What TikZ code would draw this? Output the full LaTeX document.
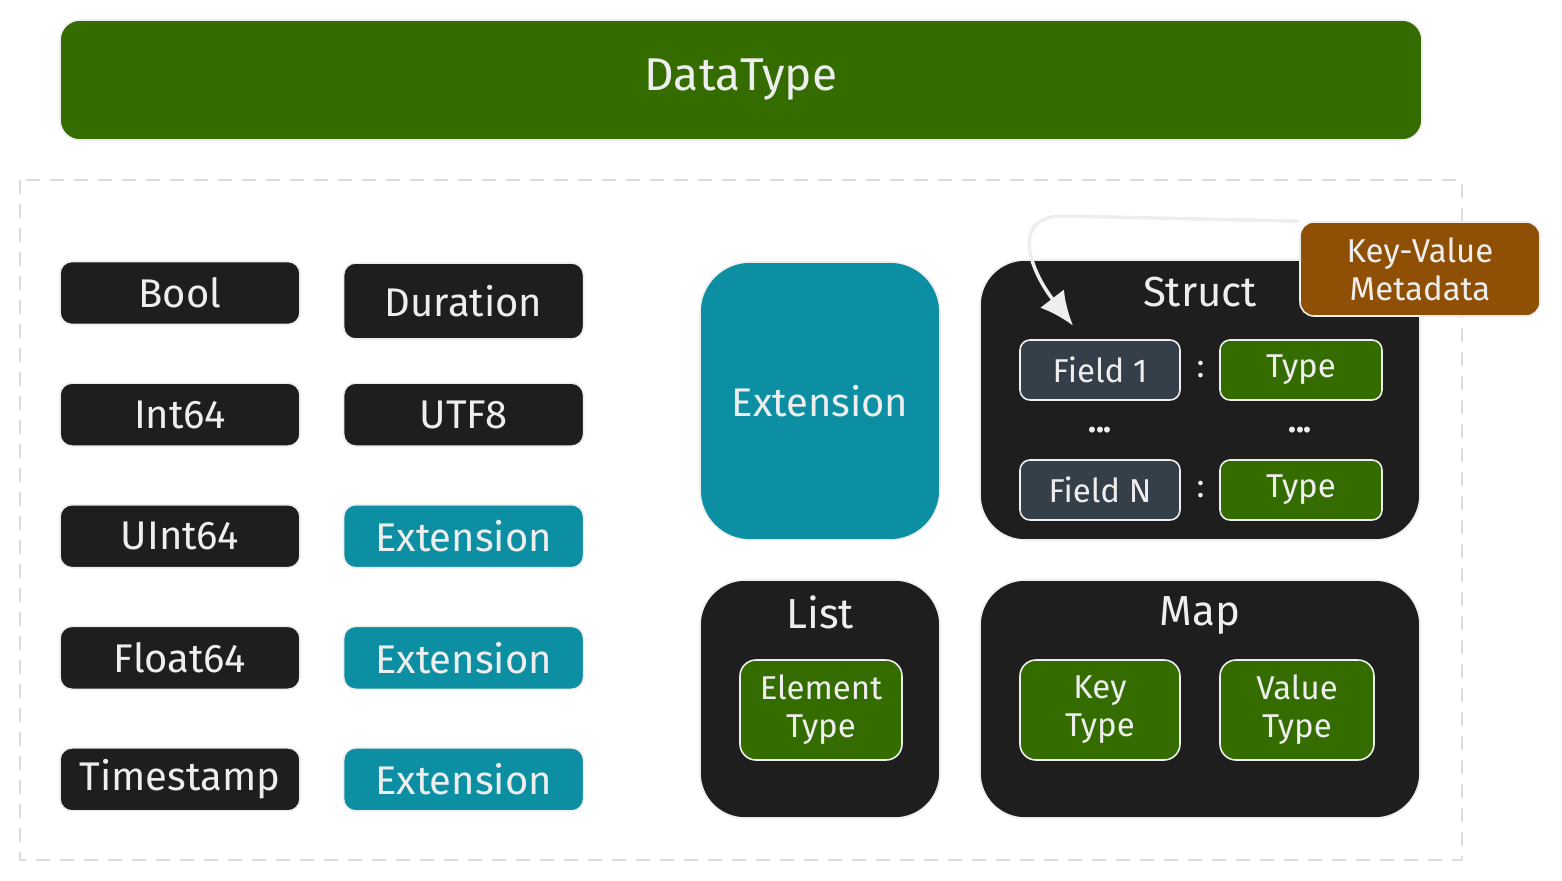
\documentclass[tikz,border=0pt]{standalone}
\usepackage{fontspec}
\setmainfont{Fira Sans}
\usetikzlibrary{positioning, calc, shapes.geometric, arrows.meta, decorations.markings}
\definecolor{ink}{HTML}{1E1E1E}
\definecolor{leaf}{HTML}{346C00}
\definecolor{sea}{HTML}{0C8FA3}
\definecolor{slate}{HTML}{343F4A}
\definecolor{rust}{HTML}{8F5005}
\definecolor{chalk}{HTML}{EEEEEE}
\tikzstyle{Box} = [rectangle, rounded corners=12pt, draw=chalk, line width=1.6pt,
text=chalk, align=center, inner sep=0pt, font=\fontsize{40}{44}\selectfont]
\tikzstyle{Prim} = [Box, fill=ink, minimum width=240pt, minimum height=63pt]
\tikzstyle{Ext} = [Prim, fill=sea]
\tikzstyle{Group} = [Box, fill=ink, rounded corners=45pt]
\tikzstyle{Slot} = [Box, rounded corners=10pt, font=\fontsize{33}{38}\selectfont]
\tikzstyle{Title} = [text=chalk, font=\fontsize{42}{46}\selectfont]
\tikzstyle{Arrow} = [
color=chalk, line width=3.5pt,
-{Latex[length=34pt, width=30pt]},
shorten >= 2pt]

\begin{document}
\begin{tikzpicture}[x=1pt, y=-1pt]
    \useasboundingbox (0,0) rectangle (1562,880);
    \draw[draw=chalk!85!gray, line width=2.5pt, dash pattern=on 14pt off 10pt] (20,180) rectangle (1462,860);

    \node [Box, fill=leaf, minimum width=1362pt, minimum height=120pt, rounded corners=20pt,
           font=\fontsize{46}{50}\selectfont] (0) at (741,80) {DataType};

    \node [Prim] (1) at (180,293) {Bool};
    \node [Prim, below =57pt of 1] (2) {Int64};
    \node [Prim, below =57pt of 2] (3) {UInt64};
    \node [Prim, below =57pt of 3] (4) {Float64};
    \node [Prim, below =57pt of 4] (5) {Timestamp};
    \node [Prim, right =42pt of 1, minimum height=76pt, yshift=-8pt] (6) {Duration};
    \node [Prim, right =42pt of 2] (7) {UTF8};
    \node [Ext, right =42pt of 3] (8) {Extension};
    \node [Ext, right =42pt of 4] (9) {Extension};
    \node [Ext, right =42pt of 5] (10) {Extension};

    \node [Box, fill=sea, rounded corners=50pt, minimum width=240pt, minimum height=278pt] (11) at (820,401) {Extension};

    \node [Group, minimum width=440pt, minimum height=280pt] (12) at (1200,400) {};
    \node [Title] (13) at (1200,292) {Struct};
    \node [Slot, fill=slate, minimum width=160pt, minimum height=60pt] (14) at (1100,370) {Field 1};
    \node [Slot, fill=leaf, minimum width=162pt, minimum height=60pt] (15) at (1301,370) {Type};
    \node [Title, font=\fontsize{33}{38}\selectfont] (16) at ($(14)!0.5!(15)$) {:};
    \node [Title, font=\bfseries\fontsize{33}{38}\selectfont] (17) at (1100,430) {...};
    \node [Title, font=\bfseries\fontsize{33}{38}\selectfont] (18) at (1300,430) {...};
    \node [Slot, fill=slate, minimum width=160pt, minimum height=60pt] (19) at (1100,490) {Field N};
    \node [Slot, fill=leaf, minimum width=162pt, minimum height=60pt] (20) at (1301,490) {Type};
    \node [Title, font=\fontsize{33}{38}\selectfont] (21) at ($(19)!0.5!(20)$) {:};

    \node [Slot, fill=rust, rounded corners=14pt, minimum width=240pt, minimum height=94pt] (22) at (1420,269) {Key-Value\\Metadata};

    \node [Group, minimum width=240pt, minimum height=238pt] (23) at (820,699) {};
    \node [Title] (24) at (820,612) {List};
    \node [Slot, fill=leaf, minimum width=162pt, minimum height=100pt, rounded corners=16pt] (25) at (821,710) {Element\\Type};

    \node [Group, minimum width=440pt, minimum height=238pt] (26) at (1200,699) {};
    \node [Title] (27) at (1200,615) {Map};
    \node [Slot, fill=leaf, minimum width=160pt, minimum height=100pt, rounded corners=16pt] (28) at (1100,710) {Key\\Type};
    \node [Slot, fill=leaf, minimum width=154pt, minimum height=100pt, rounded corners=16pt] (29) at (1297,710) {Value\\Type};

    \coordinate (30) at (1062,216);
    \draw[Arrow] (22.north west) -- (30) .. controls (1010,217) and (1030,270) .. ($(14.north west)+(55,-12)$);
\end{tikzpicture}
\end{document}
